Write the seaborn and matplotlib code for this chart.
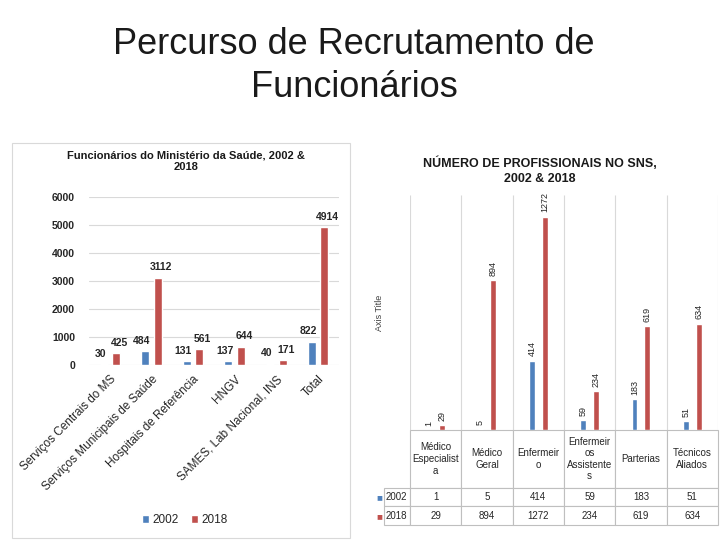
import matplotlib.pyplot as plt
import numpy as np
import pandas as pd
import seaborn as sns
from matplotlib.patches import Rectangle

anos = ['2002', '2018']
cores = ['#4F81BD', '#C0504D']

servicos = ['Serviços Centrais do MS', 'Serviços Municipais de Saúde', 'Hospitais de Referência',
            'HNGV', 'SAMES, Lab Nacional, INS', 'Total']
func_2002 = [30, 484, 131, 137, 40, 822]
func_2018 = [425, 3112, 561, 644, 171, 4914]

profissoes = ['Médico Especialista', 'Médico Geral', 'Enfermeiro', 'Enfermeiros Assistentes',
              'Parterias', 'Técnicos Aliados']
# quebras de linha como aparecem na tabela do slide
prof_cabecalho = ['Médico\nEspecialist\na', 'Médico\nGeral', 'Enfermeir\no',
                  'Enfermeir\nos\nAssistente\ns', 'Parterias', 'Técnicos\nAliados']
prof_2002 = [1, 5, 414, 59, 183, 51]
prof_2018 = [29, 894, 1272, 234, 619, 634]

sns.set_theme(style='white')
plt.rcParams['font.family'] = ['Liberation Sans', 'DejaVu Sans']
grid_cor = '#D9D9D9'

df1 = pd.DataFrame({'servico': servicos * 2,
                    'ano': [anos[0]] * len(servicos) + [anos[1]] * len(servicos),
                    'valor': func_2002 + func_2018})
df2 = pd.DataFrame({'prof': profissoes * 2,
                    'ano': [anos[0]] * len(profissoes) + [anos[1]] * len(profissoes),
                    'valor': prof_2002 + prof_2018})

fig = plt.figure(figsize=(7.2, 5.4), dpi=100)
fig.text(0.492, 0.878, 'Percurso de Recrutamento de\nFuncionários', ha='center', va='center',
         fontsize=26, linespacing=1.32, color='#1a1a1a')

# ---- grafico da esquerda
fig.patches.append(Rectangle((12 / 720, 0.004), 338 / 720, 397 / 540 - 0.004, transform=fig.transFigure,
                             fill=False, ec=grid_cor, lw=0.8))
ax1 = fig.add_axes([0.1236, 0.324, 0.347, 0.311])
sns.barplot(data=df1, x='servico', y='valor', hue='ano', palette=cores, width=0.6, gap=0.36,
            saturation=1, errorbar=None, ax=ax1)
# rotulos 2002 um pouco a esquerda, 2018 um pouco a direita
for c, dx in zip(ax1.containers, [-2.5, 2.5]):
    for lab in ax1.bar_label(c, padding=4, fontsize=7.5, fontweight='bold'):
        lab.xyann = (dx, 4)
ax1.set_ylim(0, 6000)
ax1.set_yticks(range(0, 6001, 1000))
ax1.yaxis.grid(True, color=grid_cor, lw=0.8)
ax1.set_axisbelow(True)
ax1.tick_params(axis='y', length=0, pad=10, labelsize=7.5)
for t in ax1.get_yticklabels():
    t.set_fontweight('bold')
ax1.tick_params(axis='x', length=0, pad=6, labelsize=8.5)
plt.setp(ax1.get_xticklabels(), rotation=45, ha='right', rotation_mode='anchor')
ax1.set_xlabel('')
ax1.set_ylabel('')
sns.despine(ax=ax1, left=True, bottom=True)
sns.move_legend(ax1, 'center', bbox_to_anchor=(0.257, 0.037), bbox_transform=fig.transFigure,
                ncol=2, frameon=False, title=None, fontsize=8.5, handlelength=0.6, handleheight=0.6,
                handletextpad=0.3, columnspacing=1.0)
fig.text(0.258, 0.701, 'Funcionários do Ministério da Saúde, 2002 &\n2018', ha='center', va='center',
         fontsize=8, fontweight='bold', linespacing=1.2, color='#1a1a1a')

# ---- grafico da direita
ax2 = fig.add_axes([0.5694, 0.2037, 0.4278, 0.435])
sns.barplot(data=df2, x='prof', y='valor', hue='ano', palette=cores, width=0.505, gap=0.54,
            saturation=1, errorbar=None, legend=False, ax=ax2)
for c in ax2.containers:
    ax2.bar_label(c, padding=3, fontsize=6.5, rotation=90)
ax2.set_ylim(0, 1400)
ax2.set_xlim(-0.5, len(profissoes) - 0.5)
ax2.vlines(np.arange(len(profissoes) + 1) - 0.5, 0, 1400, color=grid_cor, lw=0.8, zorder=0)
ax2.set_yticks([])
ax2.set_xticks([])
ax2.set_xlabel('')
ax2.set_ylabel('Axis Title', fontsize=6.5, color='#404040', labelpad=19)
sns.despine(ax=ax2, left=True, bottom=True)
fig.text(0.75, 0.684, 'NÚMERO DE PROFISSIONAIS NO SNS,\n2002 & 2018', ha='center', va='center',
         fontsize=9, fontweight='bold', linespacing=1.25, color='#1a1a1a')

# tabela de dados (tamanhos em fracao do eixo: 308 x 235 px)
h_cab, h_lin = 58 / 235, 18.5 / 235
w_col, w_rot = 1 / len(profissoes), 38 / 308
tab = ax2.table(cellText=[prof_2002, prof_2018], rowLabels=anos, colLabels=prof_cabecalho,
                cellLoc='center', rowLoc='right', loc='bottom')
tab.auto_set_font_size(False)
tab.set_fontsize(7)
for (r, c), cell in tab.get_celld().items():
    cell.set_edgecolor('#BFBFBF')
    cell.set_linewidth(0.8)
    cell.set_height(h_cab if r == 0 else h_lin)
    cell.set_width(w_rot if c == -1 else w_col)
for i, cor in enumerate(cores):
    ax2.text(-w_rot + 0.014, -(h_cab + (i + 0.5) * h_lin), '■', color=cor, fontsize=7,
             ha='left', va='center', transform=ax2.transAxes, clip_on=False)

fig.savefig('out.png', dpi=100)
